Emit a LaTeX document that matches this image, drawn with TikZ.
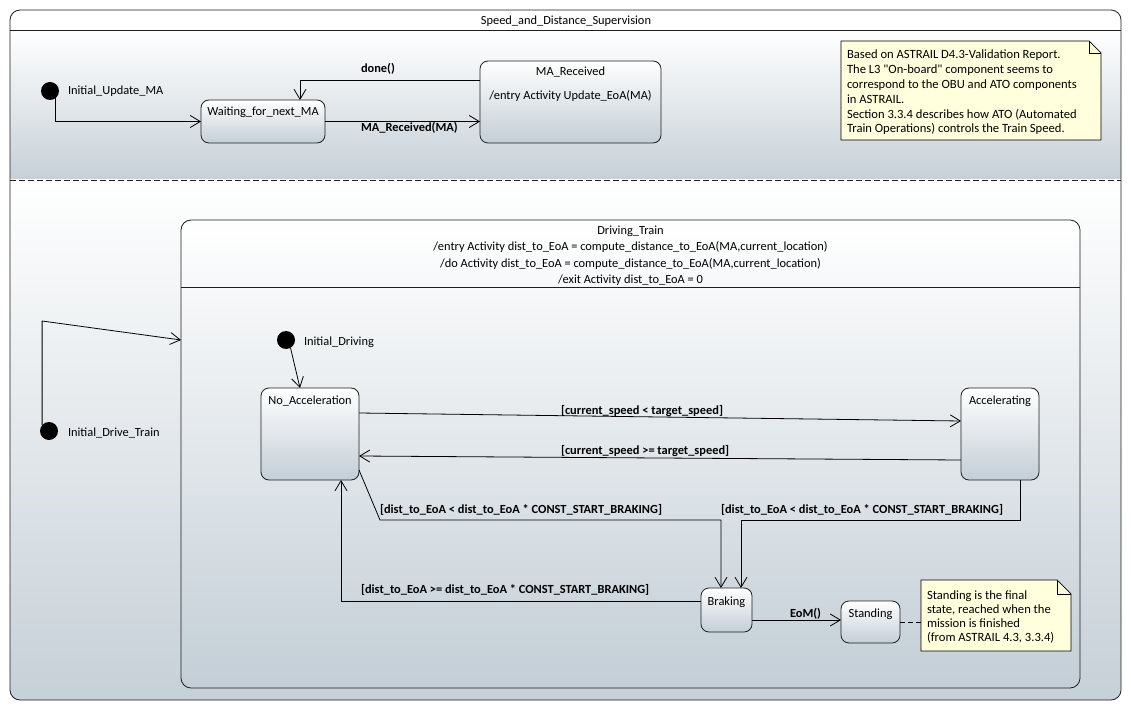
\documentclass[tikz,border=0pt]{standalone}
\usepackage{fontspec}
\setmainfont{Carlito}
\usetikzlibrary{arrows.meta,calc}

\definecolor{bgbot}{RGB}{198,208,215}
\definecolor{statebot}{RGB}{195,206,214}
\definecolor{notefill}{RGB}{255,255,222}
\definecolor{framecol}{RGB}{30,30,30}

% folded-corner outline for a note node
\newcommand{\drawnote}[2]{%
  \draw[notefill line] (#1.north west) -- ([xshift=-#2]#1.north east)
    -- ([yshift=-#2]#1.north east) -- (#1.south east) -- (#1.south west) -- cycle;
  \draw[thin] ([xshift=-#2]#1.north east) -- ([xshift=-#2,yshift=-#2]#1.north east)
    -- ([yshift=-#2]#1.north east);}

\begin{document}
\begin{tikzpicture}[x=1pt,y=-1pt,
  every node/.style={inner sep=0pt, outer sep=0pt},
  txt/.style={font=\fontsize{12.4}{15}\selectfont},
  guard/.style={font=\fontsize{12.4}{15}\selectfont\bfseries, anchor=base west},
  state/.style={draw=framecol, line width=0.8pt, rounded corners=8pt,
    top color=white, bottom color=statebot, anchor=north west},
  initial/.style={circle, fill=black, minimum size=18pt},
  arr/.style={line width=0.8pt, -{Straight Barb[length=10pt,width=12pt]}},
  notebox/.style={anchor=north west},
  notefill line/.style={draw=black, line width=0.7pt, fill=notefill},
  notetxt/.style={anchor=base west, font=\fontsize{13}{15}\selectfont}
]
\useasboundingbox (0,0) rectangle (1131,711);
\fill[white] (0,0) rectangle (1131,711);

% ---- outer frame with its two regions
\begin{scope}
  \clip[rounded corners=10pt] (10,10) rectangle (1121,700);
  \fill[white] (10,10) rectangle (1121,30);
  \shade[top color=white, bottom color=bgbot] (10,30) rectangle (1121,180);
  \shade[top color=white, bottom color=bgbot] (10,180) rectangle (1121,700);
\end{scope}
\draw[framecol, line width=0.8pt, rounded corners=10pt] (10,10) rectangle (1121,700);
\draw[framecol, line width=0.8pt] (10,30) -- (1121,30);
\draw[framecol, line width=0.8pt, dash pattern=on 6pt off 3pt] (10,180) -- (1121,180);
\node[txt, anchor=base] (title) at (566,25) {Speed\_and\_Distance\_Supervision};

% ---- region 1: MA handling
\node[initial] (init1) at (50,91) {};
\node[txt, anchor=base west] (init1lbl) at (68,95) {Initial\_Update\_MA};
\node[state, minimum width=124pt, minimum height=43pt] (wait) at (201,100) {};
\node[txt, anchor=base] (waittxt) at (263,116) {Waiting\_for\_next\_MA};
\node[state, minimum width=181pt, minimum height=82pt] (ma) at (480,61) {};
\node[txt, anchor=base] (matitle) at (570.5,76) {MA\_Received};
\node[txt, anchor=base] (maentry) at (570.5,100) {/entry Activity Update\_EoA(MA)};

\draw[arr] (init1.-50) |- (wait.west);
\draw[arr] ([yshift=22pt]ma.west) -| ([xshift=37pt]wait.north);
\draw[arr] (wait.east) -- (wait.east -| ma.west);
\node[guard] (donelbl) at (361,73) {done()};
\node[guard] (marcvlbl) at (361,132) {MA\_Received(MA)};

% note in region 1
\node[notebox, minimum width=260pt, minimum height=99pt] (note1) at (841,41) {};
\drawnote{note1}{12pt}
\node[notetxt] (note1txt) at (847,59) {\parbox[t]{250pt}{\fontsize{12.6}{14.8}\selectfont
  Based on ASTRAIL D4.3-Validation Report.\\
  The L3 \textquotedbl On-board\textquotedbl{} component seems to\\
  correspond to the OBU and ATO components\\
  in ASTRAIL.\\
  Section 3.3.4 describes how ATO (Automated\\
  Train Operations) controls the Train Speed.}};

% ---- region 2: driving
\node[state, rounded corners=10pt, minimum width=899pt, minimum height=468pt] (dt) at (181,220) {};
\draw[framecol, line width=0.8pt] ([yshift=-67pt]dt.north west) -- ([yshift=-67pt]dt.north east);
\node[txt, anchor=base] (dtname) at (630.5,235) {Driving\_Train};
\node[txt, anchor=base] (dtentry) at (630.5,251) {/entry Activity dist\_to\_EoA = compute\_distance\_to\_EoA(MA,current\_location)};
\node[txt, anchor=base] (dtdo) at (630.5,267) {/do Activity dist\_to\_EoA = compute\_distance\_to\_EoA(MA,current\_location)};
\node[txt, anchor=base] (dtexit) at (630.5,283) {/exit Activity dist\_to\_EoA = 0};

\node[initial] (init3) at (49,431) {};
\node[txt, anchor=base west] (init3lbl) at (68,436) {Initial\_Drive\_Train};
\coordinate (bend) at (42,321);
\draw[arr] (init3.140) |- (bend) -- ([yshift=114pt]dt.west);

\node[initial] (init2) at (286,340) {};
\node[txt, anchor=base west] (init2lbl) at (304,345) {Initial\_Driving};

\node[state, minimum width=98pt, minimum height=92pt] (noacc) at (261,388) {};
\node[txt, anchor=base] (noacctxt) at (310,404) {No\_Acceleration};
\node[state, minimum width=78pt, minimum height=92pt] (acc) at (961,388) {};
\node[txt, anchor=base] (acctxt) at (1000,404) {Accelerating};
\node[state, minimum width=51pt, minimum height=44pt] (brake) at (701,588) {};
\node[txt, anchor=base] (braketxt) at (726.5,605) {Braking};
\node[state, minimum width=59pt, minimum height=42pt] (stand) at (841,601) {};
\node[txt, anchor=base] (standtxt) at (870.5,617) {Standing};

\draw[arr] (init2.-60) -- ([xshift=-10pt]noacc.north);
\draw[arr] ([yshift=21pt]noacc.east) -- ([yshift=13pt]acc.west);
\draw[arr] ([yshift=-26pt]acc.west) -- ([yshift=-22pt]noacc.east);
\draw[arr] ([yshift=-36pt]noacc.east) -- ++(21,50) -| ([xshift=-5.5pt]brake.north);
\draw[arr] ([xshift=20pt]acc.south) -- ++(0,40) -| ([xshift=14.5pt]brake.north);
\draw[arr] ([yshift=9pt]brake.west) -| ([xshift=31pt]noacc.south);
\draw[arr] ([yshift=-10pt]brake.east) -- ([yshift=-10pt]brake.east -| stand.west);

\node[guard] (g1) at (561,414) {[current\_speed < target\_speed]};
\node[guard] (g2) at (561,454) {[current\_speed >= target\_speed]};
\node[guard] (g3) at (380,513) {[dist\_to\_EoA < dist\_to\_EoA * CONST\_START\_BRAKING]};
\node[guard] (g4) at (721,513) {[dist\_to\_EoA < dist\_to\_EoA * CONST\_START\_BRAKING]};
\node[guard] (g5) at (361,593) {[dist\_to\_EoA >= dist\_to\_EoA * CONST\_START\_BRAKING]};
\node[guard] (g6) at (790,617) {EoM()};

% note attached to Standing
\node[notebox, minimum width=150pt, minimum height=71pt] (note2) at (921,580) {};
\drawnote{note2}{14pt}
\node[notetxt] (note2txt) at (927,599) {\parbox[t]{140pt}{\fontsize{12.6}{14.2}\selectfont
  Standing is the final\\
  state, reached when the\\
  mission is finished\\
  (from ASTRAIL 4.3, 3.3.4)}};
\draw[line width=0.7pt, dash pattern=on 5pt off 3pt] (stand.east) -- (stand.east -| note2.west);
\end{tikzpicture}
\end{document}
